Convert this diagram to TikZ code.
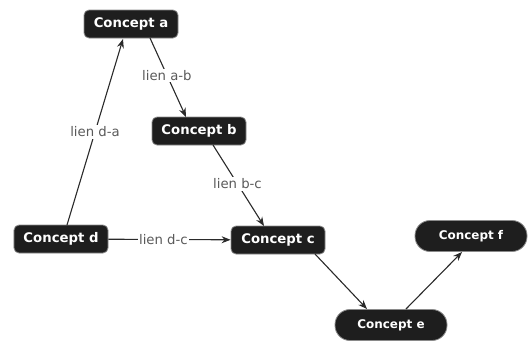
\documentclass[tikz,border=0pt]{standalone}
\usepackage{fontspec}
\setmainfont{DejaVu Sans}
\usetikzlibrary{arrows.meta}
\definecolor{boxfill}{HTML}{1E1E1E}
\definecolor{boxline}{HTML}{8A8A8A}
\definecolor{lblcol}{HTML}{5A5A5A}
\definecolor{linecol}{HTML}{2A2A2A}
\begin{document}
\begin{tikzpicture}[x=1bp,y=-1bp,
  concept/.style={draw=boxline, line width=0.8bp, fill=boxfill, text=white,
    font=\fontsize{13.3}{15}\selectfont\bfseries, rounded corners=5bp,
    minimum width=94bp, minimum height=28bp, inner sep=0pt},
  pill/.style={concept, font=\fontsize{12}{14}\selectfont\bfseries, rounded corners=15bp,
    minimum width=112bp, minimum height=31bp},
  lbl/.style={fill=white, text=lblcol, font=\fontsize{13.3}{15}\selectfont, inner sep=1.5bp},
  conn/.style={draw=linecol, line width=1.1bp, -{Stealth[length=9bp,width=7bp]}}]
\useasboundingbox (0,0) rectangle (528,340);
\node[concept] (a) at (131,24) {Concept a};
\node[concept] (b) at (199,131) {Concept b};
\node[concept] (d) at (61,239) {Concept d};
\node[concept] (c) at (278,240) {Concept c};
\node[pill] (e) at (391,325) {Concept e};
\node[pill] (f) at (471,236) {Concept f};
\coordinate (dtop) at (67,225);
\coordinate (abot) at (123,39);
\coordinate (abot2) at (150,38);
\coordinate (btop) at (186,117);
\coordinate (bbot) at (213,145);
\coordinate (ctop) at (264,226);
\coordinate (cbr) at (315,254);
\coordinate (etop) at (367,309);
\coordinate (etop2) at (406,309);
\coordinate (fbot) at (462,252);
\draw[conn] (dtop) -- node[lbl, pos=0.5] {lien d-a} (abot);
\draw[conn] (abot2) -- node[lbl, pos=0.47] {lien a-b} (btop);
\draw[conn] (bbot) -- node[lbl, pos=0.48] {lien b-c} (ctop);
\draw[conn] (d) -- node[lbl, pos=0.45] {lien d-c} (c);
\draw[conn] (cbr) -- (etop);
\draw[conn] (etop2) -- (fbot);
\end{tikzpicture}
\end{document}
